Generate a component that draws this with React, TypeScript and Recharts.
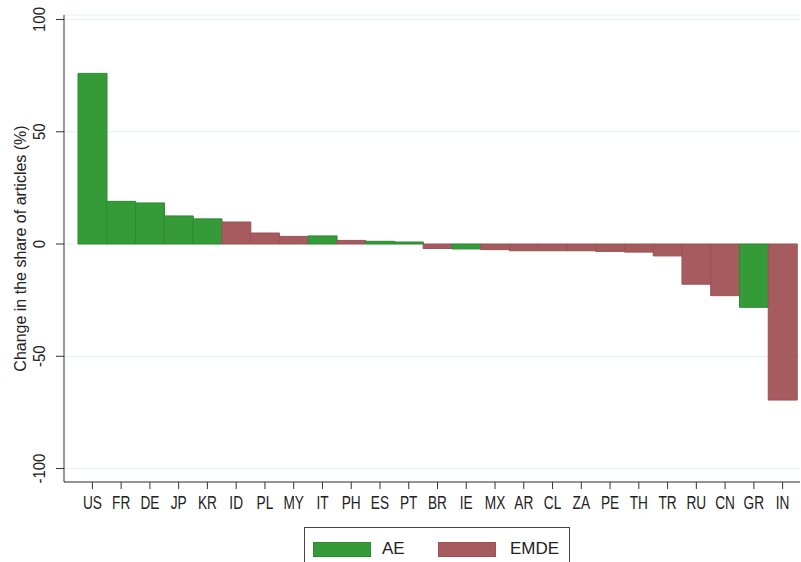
import { BarChart, Bar, XAxis, YAxis, CartesianGrid, Cell } from "recharts";

const COUNTRIES = ["US", "FR", "DE", "JP", "KR", "ID", "PL", "MY", "IT", "PH", "ES", "PT", "BR", "IE", "MX", "AR", "CL", "ZA", "PE", "TH", "TR", "RU", "CN", "GR", "IN"];
const CHANGE = [76, 19, 18.3, 12.5, 11.2, 9.8, 4.9, 3.4, 3.6, 1.6, 1.2, 0.9, -2.0, -2.2, -2.5, -3, -3, -3, -3.3, -3.6, -5.3, -17.9, -23, -28.2, -69.5];
const GROUP = ["AE", "AE", "AE", "AE", "AE", "EMDE", "EMDE", "EMDE", "AE", "EMDE", "AE", "AE", "EMDE", "AE", "EMDE", "EMDE", "EMDE", "EMDE", "EMDE", "EMDE", "EMDE", "EMDE", "EMDE", "AE", "EMDE"];
const Y_TICKS = [-100, -50, 0, 50, 100];
const SERIES = ["AE", "EMDE"];

const FILL: Record<string, string> = { AE: "#359a38", EMDE: "#a65c5f" };
const STROKE: Record<string, string> = { AE: "#2b8c2f", EMDE: "#9c5155" };
const SANS = "'Liberation Sans', Arial, sans-serif";

const data = COUNTRIES.map((c, i) => ({ country: c, value: CHANGE[i], group: GROUP[i] }));

// narrow-looking labels: no condensed font installed, so squeeze a regular one
function XTick(props: any) {
  const { x, y, payload } = props;
  return (
    <g transform={`translate(${x},${y + 20})`}>
      <text transform="scale(0.76,1)" textAnchor="middle" fontSize={18} fontFamily={SANS} fill="#222">
        {payload.value}
      </text>
    </g>
  );
}

function YTick(props: any) {
  const { x, y, payload } = props;
  return (
    <g transform={`translate(${x},${y}) rotate(-90)`}>
      <text transform="scale(0.88,1)" textAnchor="middle" fontSize={17} fontFamily={SANS} fill="#222">
        {payload.value}
      </text>
    </g>
  );
}

function YLabel(props: any) {
  const vb = props.viewBox;
  const x = vb.x + 18;
  const y = vb.y + vb.height / 2;
  return (
    <text x={x} y={y} transform={`rotate(-90, ${x}, ${y})`} textAnchor="middle" fontSize={16} fontFamily={SANS} fill="#222">
      Change in the share of articles (%)
    </text>
  );
}

export default function App() {
  return (
    <div style={{ position: "absolute", left: 0, top: 0, width: 801, height: 562, overflow: "hidden", background: "#fff" }}>
      <BarChart width={801} height={562} data={data} margin={{ top: 15, right: 1, left: 8, bottom: 40 }} barCategoryGap={0}>
        <CartesianGrid vertical={false} stroke="#e6eff1" />
        <XAxis
          dataKey="country"
          interval={0}
          height={40}
          padding={{ left: 14, right: 3 }}
          tickSize={7}
          tickMargin={0}
          stroke="#333"
          tick={<XTick />}
        />
        <YAxis
          domain={[-106, 102]}
          ticks={Y_TICKS}
          width={56}
          tickSize={8}
          tickMargin={11}
          stroke="#333"
          tick={<YTick />}
          label={(p: any) => <YLabel {...p} />}
        />
        <Bar dataKey="value" isAnimationActive={false} strokeWidth={1}>
          {data.map((d, i) => (
            <Cell key={i} fill={FILL[d.group]} stroke={STROKE[d.group]} />
          ))}
        </Bar>
      </BarChart>
      <div
        style={{
          position: "absolute",
          left: 304,
          top: 527,
          width: 266,
          height: 44,
          border: "1px solid #444",
          boxSizing: "border-box",
          fontFamily: SANS,
          fontSize: 17,
          color: "#222",
        }}
      >
        {SERIES.map((s, i) => (
          <div key={s} style={{ position: "absolute", left: i === 0 ? 8 : 133, top: 11, display: "flex", alignItems: "center" }}>
            <span style={{ display: "inline-block", width: 58, height: 15, background: FILL[s], border: `1px solid ${STROKE[s]}`, boxSizing: "border-box" }} />
            <span style={{ marginLeft: i === 0 ? 11 : 14 }}>{s}</span>
          </div>
        ))}
      </div>
    </div>
  );
}
